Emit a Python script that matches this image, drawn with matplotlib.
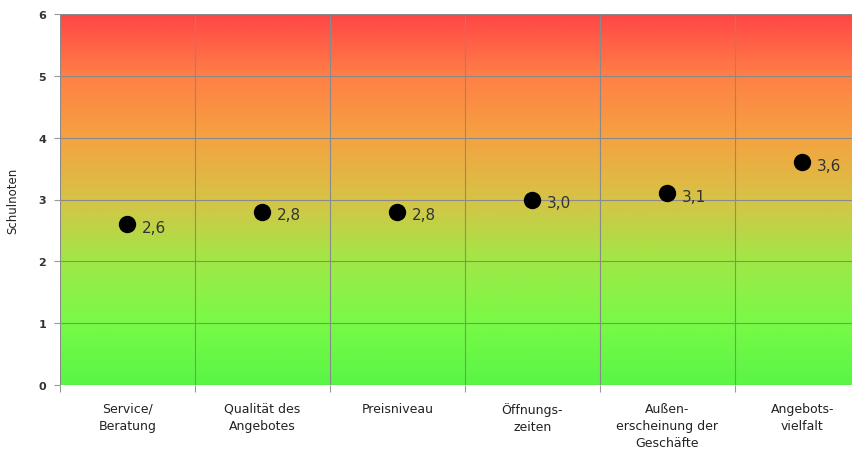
import matplotlib.pyplot as plt
import numpy as np
from matplotlib.colors import LinearSegmentedColormap

# data
kategorien = ["Service/\nBeratung", "Qualität des\nAngebotes", "Preisniveau",
              "Öffnungs-\nzeiten", "Außen-\nerscheinung der\nGeschäfte", "Angebots-\nvielfalt"]
noten = [2.6, 2.8, 2.8, 3.0, 3.1, 3.6]
noten_text = ["2,6", "2,8", "2,8", "3,0", "3,1", "3,6"]

fig = plt.figure(figsize=(8.53, 4.52), dpi=100)
ax = fig.add_axes([60/853, 1-386/452, 810/853, 371/452])

# background gradient green (0) -> yellow (3) -> red (6)
cmap = LinearSegmentedColormap.from_list("noten", [
    (0.0, (90/255, 245/255, 70/255)),
    (1/6, (120/255, 250/255, 70/255)),
    (2/6, (160/255, 232/255, 70/255)),
    (3/6, (215/255, 195/255, 70/255)),
    (4/6, (245/255, 162/255, 65/255)),
    (5/6, (255/255, 128/255, 70/255)),
    (1.0, (255/255, 70/255, 70/255)),
])
grad = np.linspace(0, 1, 256).reshape(-1, 1)
ax.imshow(grad, cmap=cmap, origin="lower", aspect="auto",
          extent=[-0.5, 5.5, 0, 6], zorder=0)

x = np.arange(len(kategorien))
ax.plot(x, noten, "o", color="black", markersize=11.5, zorder=3)
for xi, yi, t in zip(x, noten, noten_text):
    ax.annotate(t, (xi, yi), xytext=(10, -2), textcoords="offset points",
                fontsize=11, color="#333333", va="center", ha="left", zorder=4)

ax.set_xlim(-0.5, 5.5)
ax.set_ylim(0, 6)
ax.set_yticks(range(7))
ax.set_yticklabels([str(i) for i in range(7)], fontsize=8, fontweight="bold", color="#333333")

# category boundaries as gridlines, labels centered
ax.set_xticks(np.arange(-0.5, 6, 1))
ax.set_xticklabels([])
ax.set_xticks(x, minor=True)
ax.set_xticklabels(kategorien, minor=True, fontsize=9, color="#222222",
                   linespacing=1.4)
ax.tick_params(axis="x", which="minor", length=0, pad=12)
ax.tick_params(axis="x", which="major", length=5, color="#999999")
ax.tick_params(axis="y", length=4, color="#999999", pad=6)

ax.grid(True, which="major", color="#8a8a8a", linewidth=0.8)
ax.set_axisbelow(False)
for s in ax.spines.values():
    s.set_visible(False)

ax.set_ylabel("Schulnoten", fontsize=8.5, color="#222222", labelpad=14)

fig.savefig("out.png", dpi=100)
